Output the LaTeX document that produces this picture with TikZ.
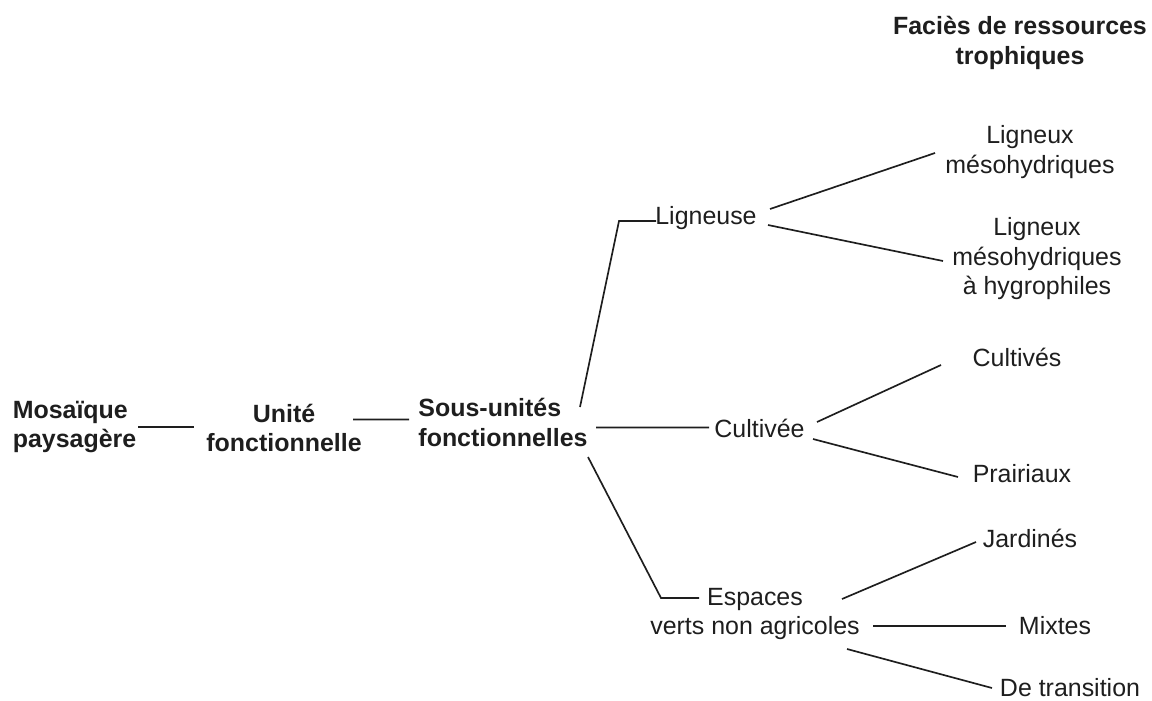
\documentclass[tikz,border=0pt]{standalone}
\usepackage{fontspec}
\setmainfont{Liberation Sans}
\definecolor{ink}{HTML}{1E1E1E}
\begin{document}
\begin{tikzpicture}[x=0.02cm, y=-0.02cm,
    txt/.style={text=ink, align=center, inner sep=0pt, font=\fontsize{14.2}{16.8}\selectfont},
    gras/.style={txt, font=\fontsize{14.2}{16.8}\selectfont\bfseries},
    lien/.style={draw=ink, line width=0.95pt}]
    \useasboundingbox (0,0) rectangle (1152,700);

    % titre de la colonne de droite
    \node[gras] (fac) at (1020,43) {Faciès de ressources\\trophiques};

    % niveaux emboîtés
    \node[gras, align=left] (mos) at (74.5,427) {Mosaïque\\paysagère};
    \node[gras] (uni) at (284,428) {Unité\\fonctionnelle};
    \node[gras, align=left] (sous) at (503,422.5) {Sous-unités\\fonctionnelles};

    % sous-unités
    \node[txt] (lign) at (706,218) {Ligneuse};
    \node[txt] (cult) at (759.5,428) {Cultivée};
    \node[txt] (esp) at (755,614) {Espaces\\verts non agricoles};

    % faciès
    \node[txt] (lm) at (1030,152) {Ligneux\\mésohydriques};
    \node[txt] (lmh) at (1037,259) {Ligneux\\mésohydriques\\à hygrophiles};
    \node[txt] (cvs) at (1017,357) {Cultivés};
    \node[txt] (pra) at (1022,474) {Prairiaux};
    \node[txt] (jar) at (1030,538) {Jardinés};
    \node[txt] (mix) at (1055,626) {Mixtes};
    \node[txt] (det) at (1070,688) {De transition};

    % traits
    \draw[lien] ([shift={(63.5,0)}]mos.center) -- ([shift={(-90,-1)}]uni.center);
    \draw[lien] ([shift={(69,-8.5)}]uni.center) -- ([shift={(-94,-3)}]sous.center);
    \draw[lien] ([shift={(-50,3)}]lign.center) -- ++(-37,0) -- ([shift={(77,-15.5)}]sous.center);
    \draw[lien] ([shift={(93,5)}]sous.center) -- ([shift={(-50.5,-0.5)}]cult.center);
    \draw[lien] ([shift={(85,34.5)}]sous.center) -- ([shift={(-94,-16)}]esp.center) -- ([shift={(-56,-16)}]esp.center);

    \draw[lien] ([shift={(64,-9)}]lign.center) -- ([shift={(-95,1)}]lm.center);
    \draw[lien] ([shift={(62,7)}]lign.center) -- ([shift={(-94,2)}]lmh.center);
    \draw[lien] ([shift={(57.5,-6)}]cult.center) -- ([shift={(-76,8)}]cvs.center);
    \draw[lien] ([shift={(53.5,11)}]cult.center) -- ([shift={(-64,3)}]pra.center);
    \draw[lien] ([shift={(87,-15)}]esp.center) -- ([shift={(-54,4)}]jar.center);
    \draw[lien] ([shift={(118,12)}]esp.center) -- ([shift={(-49,0)}]mix.center);
    \draw[lien] ([shift={(92,35)}]esp.center) -- ([shift={(-78,0)}]det.center);
\end{tikzpicture}
\end{document}
